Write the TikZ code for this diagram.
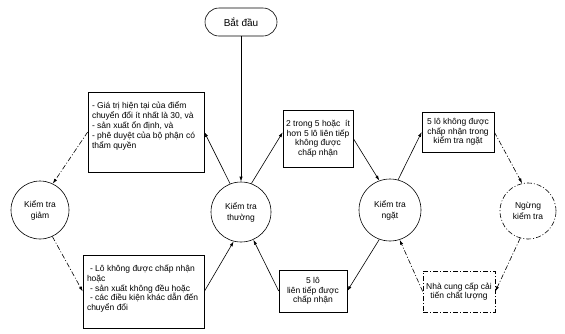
\documentclass[tikz,border=0pt]{standalone}
\usepackage{fontspec}
\setmainfont{Liberation Sans}
\usetikzlibrary{arrows.meta}
\begin{document}
\begin{tikzpicture}[x=1pt,y=-1pt, line width=0.6pt,
 box/.style={draw, rectangle, inner sep=0pt},
 circ/.style={draw, circle, inner sep=0pt, align=center, font=\fontsize{8.5}{11}\selectfont},
 btext/.style={align=left, inner sep=0pt, anchor=north west, font=\fontsize{8.5}{9.8}\selectfont},
 ctext/.style={align=center, font=\fontsize{8.5}{9.5}\selectfont},
 arr/.style={-{Latex[length=5pt,width=3.2pt]}},
 dd/.style={dash pattern=on 5pt off 2pt on 1pt off 2pt}
]
\useasboundingbox (0,0) rectangle (565,333);

\node[draw, rounded corners=14pt, minimum width=72pt, minimum height=28pt, font=\fontsize{10}{12}\selectfont] (start) at (241,22) {Bắt đầu};

\node[circ, minimum size=58pt] (giam) at (40,210) {Kiểm tra\\giảm};
\node[circ, minimum size=60pt] (thuong) at (241,212) {Kiểm tra\\thường};
\node[circ, minimum size=62pt] (ngat) at (390,210) {Kiểm tra\\ngặt};
\node[circ, dd, minimum size=56pt] (ngung) at (528,211) {Ngừng\\kiểm tra};

\node[box, minimum width=116pt, minimum height=80pt] (boxA) at (146,132) {};
\node[btext] (tA) at ([xshift=4pt,yshift=-10pt]boxA.north west) {- Giá trị hiện tại của điểm\\chuyển đổi ít nhất là 30, và\\- sản xuất ổn định, và\\- phê duyệt của bộ phận có\\thẩm quyền};

\node[box, minimum width=121pt, minimum height=73pt] (boxB) at (143.5,291.5) {};
\node[btext] (tB) at ([xshift=4pt,yshift=-10pt]boxB.north west) {\hspace*{3pt}- Lô không được chấp nhận\\hoặc\\\hspace*{3pt}- sản xuất không đều hoặc\\\hspace*{3pt}- các điều kiện khác dẫn đến\\chuyển đổi};

\node[box, ctext, minimum width=70pt, minimum height=57pt] (boxC) at (318,138.5) {2 trong 5 hoặc\ \ ít\\hơn 5 lô liên tiếp\\không được\\chấp nhận};
\node[box, ctext, minimum width=72pt, minimum height=40pt] (boxD) at (458,132) {5 lô không được\\chấp nhận trong\\kiểm tra ngặt};
\node[box, ctext, minimum width=68pt, minimum height=42pt] (boxE) at (313,291) {5 lô\\liên tiếp được\\chấp nhận};
\node[box, ctext, dd, minimum width=72pt, minimum height=41pt] (boxF) at (459,291.5) {Nhà cung cấp cải\\tiến chất lượng};

\draw[arr] (start.south) -- (thuong.north);
\draw[arr] (thuong.111) -- (boxA.east);
\draw[arr, dd] (boxA.west) -- (giam.64);
\draw[arr, dd] (giam.-65) -- (boxB.west);
\draw[arr] (boxB.east) -- (thuong.-104);
\draw[arr] (thuong.70) -- (boxC.170);
\draw[arr] (boxC.east) -- (ngat.110);
\draw[arr] (ngat.75) -- (boxD.west);
\draw[arr, dd] (boxD.east) -- (ngung.102);
\draw[arr] (ngat.-110) -- (boxE.east);
\draw[arr] (boxE.west) -- (thuong.-66);
\draw[arr, dd] (ngung.-106) -- (boxF.east);
\draw[arr, dd] (boxF.west) -- (ngat.-72);
\end{tikzpicture}
\end{document}
